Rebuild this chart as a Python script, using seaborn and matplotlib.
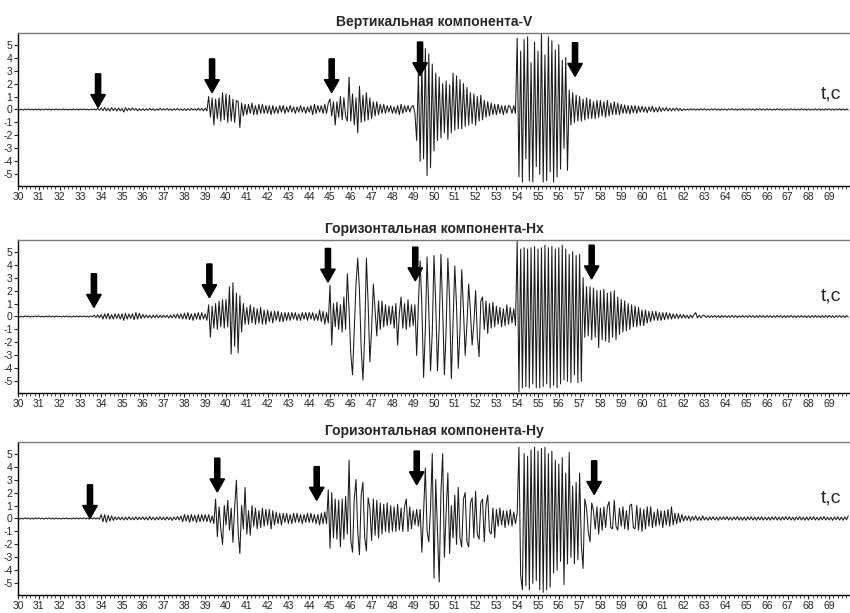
import numpy as np
import pandas as pd
import seaborn as sns
import matplotlib.pyplot as plt
from matplotlib.ticker import MultipleLocator

sns.set_style('white')
plt.rcParams['font.family'] = ['Liberation Sans', 'DejaVu Sans']
plt.rcParams['axes.unicode_minus'] = False

# amplitudes, one row = one second (12 samples, from 30 s)
v_trace = [
    0.05, -0.04, 0.03, -0.05, 0.04, -0.03, 0.05, -0.04, 0.03, -0.05, 0.04, -0.03,  # 30
    0.04, -0.05, 0.03, -0.04, 0.05, -0.03, 0.04, -0.05, 0.03, -0.04, 0.05, -0.03,
    0.03, -0.04, 0.05, -0.03, 0.04, -0.05, 0.03, -0.04, 0.05, -0.03, 0.04, -0.05,
    0.04, -0.03, 0.05, -0.04, 0.03, -0.05, 0.04, -0.03, 0.05, -0.04, 0.08, -0.06,
    0.12, -0.08, 0.15, -0.1, 0.1, -0.12, 0.14, -0.08, 0.1, -0.12, 0.12, -0.1,  # 34
    0.08, -0.2, 0.15, -0.1, 0.1, -0.08, 0.12, -0.06, 0.08, -0.1, 0.06, -0.08,
    0.06, -0.08, 0.05, -0.06, 0.08, -0.05, 0.06, -0.08, 0.05, -0.06, 0.08, -0.05,
    0.06, -0.05, 0.08, -0.06, 0.05, -0.08, 0.06, -0.05, 0.08, -0.06, 0.05, -0.08,
    0.06, -0.08, 0.05, -0.06, 0.08, -0.05, 0.06, -0.08, 0.1, -0.06, 0.08, -0.1,  # 38
    0.1, -0.1, 1.0, -0.6, 0.9, -1.2, 0.8, -0.7, 0.9, -0.9, 1.3, -0.8,
    1.2, -1.0, 1.1, -0.9, 0.8, -1.0, 0.7, 0.6, -1.4, 0.5, -0.5, 0.4,  # 40
    -0.4, 0.4, -0.3, 0.5, -0.4, 0.3, -0.4, 0.4, -0.3, 0.4, -0.3, 0.3,
    -0.3, 0.3, -0.4, 0.3, -0.3, 0.2, -0.3, 0.3, -0.2, 0.3, -0.3, 0.2,
    -0.2, 0.3, -0.2, 0.2, -0.3, 0.2, -0.2, 0.3, -0.2, 0.2, -0.3, 0.2,
    -0.2, 0.3, -0.4, 0.4, -0.3, 0.3, -0.2, 0.3, -0.3, 0.4, -0.3, 0.5,  # 44
    0.8, -0.5, 0.6, -1.2, 0.6, -0.6, 1.0, -0.8, 0.9, -0.5, -0.9, 2.5,
    -0.9, 1.2, -1.2, 0.9, -1.8, 1.8, -1.0, 1.1, -0.9, 1.3, -0.8, 0.9,
    -0.7, 0.6, -0.5, 0.6, -0.4, 0.4, -0.3, 0.4, -0.3, 0.3, -0.2, 0.3,
    -0.3, 0.2, -0.3, 0.3, -0.4, 0.4, -0.3, 0.3, -0.2, 0.3, -0.2, 0.2,  # 48
    0.3, -0.3, -2.4, 2.8, -4.0, 3.5, -3.8, 4.7, -5.1, 4.3, -4.5, 3.5,
    -3.2, 2.8, -2.4, 2.5, -2.2, 2.0, -1.8, 2.2, -2.3, 1.9, -1.8, 2.8,  # 50
    -1.6, 2.6, -1.5, 2.3, -1.5, 2.0, -1.3, 1.7, -1.2, 1.3, -1.1, 1.2,
    -1.2, 1.0, -0.9, 1.1, -0.8, 0.7, -0.6, 0.6, -0.5, 0.5, -0.4, 0.4,
    -0.4, 0.4, -0.3, 0.3, -0.4, 0.3, -0.3, 0.3, 0.2, -0.3, 0.3, -0.3,
    5.5, -5.2, 4.5, -5.6, 5.4, -3.8, 5.6, -5.5, 3.6, -5.6, 5.2, -4.4,  # 54
    4.5, -5.0, 5.9, -5.6, 4.2, -5.5, 5.6, -4.8, 5.3, -5.6, 4.6, -5.2,
    5.0, -4.6, 3.8, -3.0, 4.0, -4.7, 1.5, -1.2, 1.3, -1.0, 1.1, -0.9,
    1.0, -0.9, 0.8, -0.8, 0.9, -0.7, 0.8, -0.7, 0.6, -0.7, 0.7, -0.6,
    0.7, -0.5, 0.6, -0.6, 0.7, -0.5, 0.5, -0.4, 0.6, -0.4, 0.5, -0.4,  # 58
    0.4, -0.3, 0.35, -0.3, 0.3, -0.35, 0.3, -0.25, 0.3, -0.3, 0.25, -0.2,
    0.25, -0.2, 0.2, -0.25, 0.2, -0.15, 0.25, -0.2, 0.15, -0.2, 0.2, -0.15,  # 60
    0.12, -0.1, 0.15, -0.12, 0.1, -0.12, 0.1, -0.08, 0.12, -0.1, 0.08, -0.1,
    0.05, -0.06, 0.04, -0.05, 0.06, -0.04, 0.05, -0.06, 0.04, -0.05, 0.06, -0.04,
    0.06, -0.05, 0.04, -0.06, 0.05, -0.04, 0.06, -0.05, 0.04, -0.06, 0.05, -0.04,
    0.04, -0.06, 0.05, -0.04, 0.06, -0.05, 0.04, -0.06, 0.05, -0.04, 0.06, -0.05,  # 64
    0.05, -0.04, 0.06, -0.05, 0.04, -0.06, 0.05, -0.04, 0.06, -0.05, 0.04, -0.06,
    0.06, -0.04, 0.05, -0.06, 0.04, -0.05, 0.06, -0.04, 0.05, -0.06, 0.04, -0.05,
    0.04, -0.05, 0.06, -0.04, 0.05, -0.06, 0.04, -0.05, 0.06, -0.04, 0.05, -0.06,
    0.05, -0.06, 0.04, -0.05, 0.06, -0.04, 0.05, -0.06, 0.04, -0.05, 0.06, -0.04,  # 68
    0.06, -0.05, 0.04, -0.06, 0.05, -0.04, 0.06, -0.05, 0.04, -0.06, 0.05, -0.04,
]

hx_trace = [
    0.04, -0.05, 0.03, -0.04, 0.05, -0.03, 0.04, -0.05, 0.03, -0.04, 0.05, -0.03,  # 30
    0.05, -0.04, 0.03, -0.05, 0.04, -0.03, 0.05, -0.04, 0.03, -0.05, 0.04, -0.03,
    0.03, -0.05, 0.04, -0.03, 0.05, -0.04, 0.03, -0.05, 0.04, -0.03, 0.05, -0.04,
    0.04, -0.03, 0.05, -0.04, 0.03, -0.05, 0.04, -0.03, 0.1, -0.08, 0.12, -0.1,
    0.15, -0.2, 0.2, -0.15, 0.25, -0.2, 0.15, -0.2, 0.2, -0.15, 0.2, -0.2,  # 34
    0.2, -0.3, 0.25, -0.2, 0.2, -0.15, 0.2, -0.25, 0.3, -0.2, 0.25, -0.15,
    0.15, -0.1, 0.12, -0.1, 0.1, -0.12, 0.1, -0.08, 0.12, -0.1, 0.1, -0.08,
    0.1, -0.08, 0.1, -0.12, 0.1, -0.1, 0.15, -0.12, 0.2, -0.15, 0.2, -0.2,
    0.25, -0.2, 0.3, -0.25, 0.2, -0.3, 0.25, -0.2, 0.3, -0.25, 0.3, -0.2,  # 38
    0.2, -0.3, 0.9, -1.6, 0.8, -0.9, 1.0, -1.0, 1.2, -0.8, 1.3, -0.9,
    1.3, -0.8, 2.3, -2.9, 2.6, -2.3, 1.8, -2.8, 1.6, -1.2, 1.0, -0.6,  # 40
    0.7, -0.6, 0.9, -0.5, 0.7, -0.6, 0.6, -0.5, 0.7, -0.6, 0.5, -0.6,
    0.5, -0.4, 0.4, -0.5, 0.4, -0.3, 0.4, -0.4, 0.3, -0.4, 0.3, -0.3,
    0.3, -0.3, 0.3, -0.2, 0.3, -0.3, 0.2, -0.3, 0.3, -0.2, 0.3, -0.3,
    0.3, -0.2, 0.3, -0.3, 0.2, -0.3, 0.5, -0.4, 0.4, -0.6, 0.3, -0.5,  # 44
    2.4, -2.2, 1.0, -0.8, 1.1, -1.0, 0.9, -1.2, 1.5, -1.0, 3.3, 0.5,
    -2.9, -4.5, -1.0, 2.5, 4.5, 2.0, -2.5, -4.9, -1.5, 4.5, 1.0, -3.5,
    -1.0, 2.5, 0.5, -1.5, 1.2, -1.0, 1.2, -0.8, 0.9, -0.7, 0.8, -0.6,
    0.8, -0.9, 1.0, -2.2, 0.2, 1.5, -0.9, 1.0, -1.0, 1.3, -0.8, 0.9,  # 48
    -0.7, 0.9, -3.0, 1.0, 4.3, 0.8, -4.7, -1.0, 4.6, 0.5, -4.2, -1.2,
    4.7, 1.0, -4.2, -0.8, 4.8, 0.6, -4.5, -1.0, 4.5, 1.2, -4.8, -0.5,  # 50
    3.9, 0.8, -4.0, -1.0, 3.6, 0.5, -3.0, -0.6, 2.5, 0.4, -2.2, -0.5,
    2.0, -1.5, -3.1, 1.2, 1.5, -1.0, 1.2, -1.3, 1.0, -0.9, 1.1, -0.8,
    0.8, -0.6, 0.7, -0.8, 0.6, -0.7, 0.9, -0.6, 0.7, -0.5, 0.6, -0.7,
    5.8, -5.8, 5.2, -5.5, 5.3, -5.4, 5.2, -5.5, 5.3, -5.2, 5.4, -5.5,  # 54
    5.2, -5.5, 5.3, -5.4, 5.5, -5.2, 5.3, -5.5, 5.4, -5.3, 5.2, -5.5,
    5.3, -5.2, 5.5, -4.9, 5.2, -5.0, 4.8, -5.1, 5.0, -4.5, 4.7, -5.1,
    4.8, -5.0, 3.0, -1.6, 2.3, -1.5, 2.3, -1.8, 2.2, -1.6, 2.0, -2.4,
    2.0, -1.8, 2.1, -1.9, 1.8, -2.0, 1.9, -1.6, 2.0, -1.8, 1.5, -1.4,  # 58
    1.3, -1.2, 1.2, -1.1, 1.0, -1.0, 0.9, -0.8, 0.8, -0.8, 0.7, -0.7,
    0.5, -0.7, 0.5, -0.5, 0.4, -0.4, 0.4, -0.3, 0.4, -0.3, 0.3, -0.3,  # 60
    0.3, -0.25, 0.3, -0.2, 0.25, -0.2, 0.2, -0.15, 0.2, -0.15, 0.15, -0.12,
    0.15, -0.12, 0.1, -0.15, 0.12, -0.1, 0.15, 0.3, -0.12, 0.1, -0.1, 0.08,
    0.08, -0.07, 0.06, -0.08, 0.07, -0.06, 0.08, -0.07, 0.06, -0.08, 0.07, -0.06,
    0.07, -0.08, 0.06, -0.07, 0.08, -0.06, 0.07, -0.08, 0.06, -0.07, 0.08, -0.06,  # 64
    0.06, -0.07, 0.08, -0.06, 0.07, -0.08, 0.06, -0.07, 0.08, -0.06, 0.07, -0.08,
    0.08, -0.06, 0.07, -0.08, 0.06, -0.07, 0.08, -0.06, 0.07, -0.08, 0.06, -0.07,
    0.07, -0.06, 0.08, -0.07, 0.06, -0.08, 0.07, -0.06, 0.08, -0.07, 0.06, -0.08,
    0.06, -0.08, 0.07, -0.06, 0.08, -0.07, 0.06, -0.08, 0.07, -0.06, 0.08, -0.07,  # 68
    0.08, -0.07, 0.06, -0.08, 0.07, -0.06, 0.08, -0.07, 0.06, -0.08, 0.07, -0.06,
]

hy_trace = [
    0.04, -0.05, 0.03, -0.04, 0.05, -0.03, 0.04, -0.05, 0.03, -0.04, 0.05, -0.03,  # 30
    0.05, -0.04, 0.03, -0.05, 0.04, -0.03, 0.05, -0.04, 0.03, -0.05, 0.04, -0.03,
    0.03, -0.05, 0.04, -0.03, 0.05, -0.04, 0.03, -0.05, 0.04, -0.03, 0.05, -0.04,
    0.04, -0.03, 0.05, -0.04, 0.03, -0.05, 0.05, -0.04, 0.06, -0.05, 0.05, -0.06,
    0.3, -0.25, 0.3, -0.3, 0.25, -0.2, 0.2, -0.15, 0.12, -0.1, 0.12, -0.1,  # 34
    0.1, -0.12, 0.1, -0.1, 0.12, -0.1, 0.08, -0.1, 0.12, -0.1, 0.1, -0.08,
    0.12, -0.1, 0.1, -0.12, 0.15, -0.1, 0.1, -0.12, 0.1, -0.1, 0.12, -0.1,
    0.1, -0.12, 0.12, -0.1, 0.1, -0.15, 0.12, -0.1, 0.15, -0.12, 0.2, -0.25,
    0.3, -0.2, 0.25, -0.3, 0.3, -0.2, 0.25, -0.3, 0.3, -0.25, 0.3, -0.2,  # 38
    0.3, -0.25, 0.3, -0.3, 0.2, -0.4, 1.5, -1.4, 0.9, -0.8, -2.0, 1.0,
    -0.5, 1.4, -0.9, 0.8, -1.85, 0.9, 2.95, -1.0, -2.7, 1.0, -0.8, 2.4,  # 40
    -1.2, 0.6, -1.3, 1.0, -0.6, 0.8, -0.8, 0.6, -0.7, 0.8, -0.6, 0.7,
    -0.5, 0.7, -0.8, 0.6, -0.5, 0.5, -0.4, 0.4, -0.5, 0.4, -0.3, 0.4,
    -0.4, 0.3, -0.4, 0.4, -0.3, 0.4, -0.3, 0.3, -0.4, 0.3, -0.3, 0.4,
    -0.3, 0.4, -0.3, 0.3, -0.4, 0.3, -0.5, 0.4, -0.4, 0.5, -0.4, 2.2,  # 44
    -2.3, 2.0, -1.5, 1.5, -1.6, 1.4, -2.2, 1.5, -1.6, 1.7, -1.2, 4.5,
    -1.7, -2.6, 1.5, 3.0, -1.0, -2.8, 1.8, 2.8, -1.5, -2.5, 1.6, 0.8,
    -1.7, 1.5, -1.3, 1.4, -1.5, 1.2, -1.2, 1.1, -1.0, 1.2, -1.1, 1.0,
    -1.0, 0.9, -1.0, 1.1, -0.9, 0.8, -1.0, 0.9, 1.5, -1.0, 0.9, -0.8,  # 48
    0.6, -0.5, 0.7, -0.6, 0.7, -2.6, 0.5, 3.9, -1.0, -1.8, 0.8, 5.0,
    -4.6, 3.0, -1.0, -4.9, 2.0, 5.0, -3.0, 0.5, 3.5, -2.7, 1.0, -1.5,  # 50
    1.8, -2.0, 2.4, -1.5, -2.2, 1.5, 2.0, -1.8, -2.2, 1.2, 1.6, -1.5,
    2.1, -1.2, -1.6, 1.2, 1.5, -1.8, 1.0, 1.8, -1.0, -1.2, 0.8, -1.5,
    0.7, -0.6, 0.8, -0.5, 0.6, -0.7, 0.6, -0.5, 0.7, -0.6, 0.5, -0.4,
    0.4, 5.5, -4.4, -5.5, 5.0, -5.2, 4.8, -5.5, 5.3, -5.0, 5.5, -4.8,  # 54
    5.2, -5.5, 5.4, -5.7, 5.5, -5.5, 5.0, -5.3, 5.2, -4.2, 4.5, -4.0,
    4.2, -3.3, 4.7, -5.1, 3.5, -3.5, 5.1, -3.0, 2.5, -3.5, 2.8, -3.2,
    3.5, -2.0, -3.85, 1.5, 0.8, -1.0, -1.8, 1.2, 0.6, -0.8, 0.9, -1.2,
    0.8, -0.9, 0.9, -0.7, 0.9, 1.3, -0.7, -0.8, 1.4, -0.6, -0.9, 0.8,  # 58
    -0.6, 0.9, -0.8, 0.6, -0.9, 1.0, 1.1, -0.7, -0.8, 1.0, -0.9, 0.8,
    -1.0, 0.7, -0.8, 0.9, -0.6, 0.9, -0.7, 0.5, -0.6, 0.7, -0.5, 0.6,  # 60
    -0.7, 0.6, -0.5, 0.7, -0.6, 0.9, -0.5, 0.4, -0.4, 0.4, -0.3, 0.3,
    -0.2, 0.2, -0.15, 0.2, -0.2, 0.15, -0.12, 0.2, -0.15, 0.12, -0.15, 0.2,
    -0.12, 0.1, -0.14, 0.12, -0.1, 0.13, -0.12, 0.1, -0.14, 0.12, -0.1, 0.13,
    -0.1, 0.14, -0.12, 0.1, -0.13, 0.12, -0.1, 0.14, -0.12, 0.1, -0.13, 0.12,  # 64
    -0.14, 0.12, -0.1, 0.13, -0.12, 0.1, -0.14, 0.12, -0.1, 0.13, -0.12, 0.1,
    -0.12, 0.1, -0.13, 0.12, -0.1, 0.14, -0.12, 0.1, -0.13, 0.12, -0.1, 0.14,
    -0.1, 0.13, -0.12, 0.1, -0.14, 0.12, -0.1, 0.13, -0.12, 0.1, -0.14, 0.12,
    -0.13, 0.12, -0.1, 0.14, -0.12, 0.1, -0.13, 0.12, -0.1, 0.14, -0.12, 0.1,  # 68
    -0.12, 0.1, -0.14, 0.12, -0.1, 0.13, -0.12, 0.1, -0.14, 0.12, -0.1, 0.2,
]

titles = ['Вертикальная компонента-V',
          'Горизонтальная компонента-Hx',
          'Горизонтальная компонента-Hy']

# phase arrows: time of arrow and level of its tip
v_arrow_t = [33.85, 39.33, 45.08, 49.33, 56.78]
v_arrow_y = [0.15, 1.3, 1.3, 2.6, 2.55]
hx_arrow_t = [33.65, 39.2, 44.9, 49.1, 57.58]
hx_arrow_y = [0.7, 1.45, 2.65, 2.75, 2.9]
hy_arrow_t = [33.46, 39.58, 44.36, 49.17, 57.7]
hy_arrow_y = [0.0, 2.05, 1.4, 2.6, 1.85]
tc_y = [1.2, 1.6, 1.55]

traces = [v_trace, hx_trace, hy_trace]
arrows = [(v_arrow_t, v_arrow_y), (hx_arrow_t, hx_arrow_y), (hy_arrow_t, hy_arrow_y)]

fig = plt.figure(figsize=(8.5, 6.13), dpi=100)
bottoms = [0.6966, 0.3589, 0.0294]

for i in range(3):
    ax = fig.add_axes([18 / 850, bottoms[i], 832 / 850, 0.2496])
    df = pd.DataFrame({'t': 30 + np.arange(len(traces[i])) / 12, 'amp': traces[i]})
    sns.lineplot(data=df, x='t', y='amp', ax=ax, color='#1a1a1a',
                 linewidth=0.75, estimator=None)

    for at, ay in zip(*arrows[i]):
        ax.arrow(at, ay + 2.6, 0, -2.6, width=0.25, head_width=0.7,
                 head_length=1.0, length_includes_head=True,
                 color='black', zorder=5)

    ax.text(68.6, tc_y[i], 't,c', fontsize=14, va='center', ha='left')

    ax.set_xlim(30, 70)
    ax.set_ylim(-5.9, 5.9)
    ax.set_xticks(range(30, 70))
    ax.xaxis.set_minor_locator(MultipleLocator(0.2))
    ax.set_yticks(range(-5, 6))
    ax.tick_params(axis='both', which='major', labelsize=7.5, length=3, width=0.8,
                   direction='out', pad=1, bottom=True, left=True)
    ax.tick_params(axis='x', which='minor', length=2, width=0.6, bottom=True)
    ax.set_xlabel('')
    ax.set_ylabel('')
    ax.set_title(titles[i], fontsize=10, fontweight='bold', pad=5)

    ax.spines['right'].set_visible(False)
    ax.spines['top'].set_color('#7a7a7a')
    ax.spines['top'].set_linewidth(1.0)
    ax.spines['left'].set_color('black')
    ax.spines['bottom'].set_color('black')
    ax.spines['left'].set_linewidth(1.0)
    ax.spines['bottom'].set_linewidth(1.0)

plt.savefig('out.png', dpi=100)
